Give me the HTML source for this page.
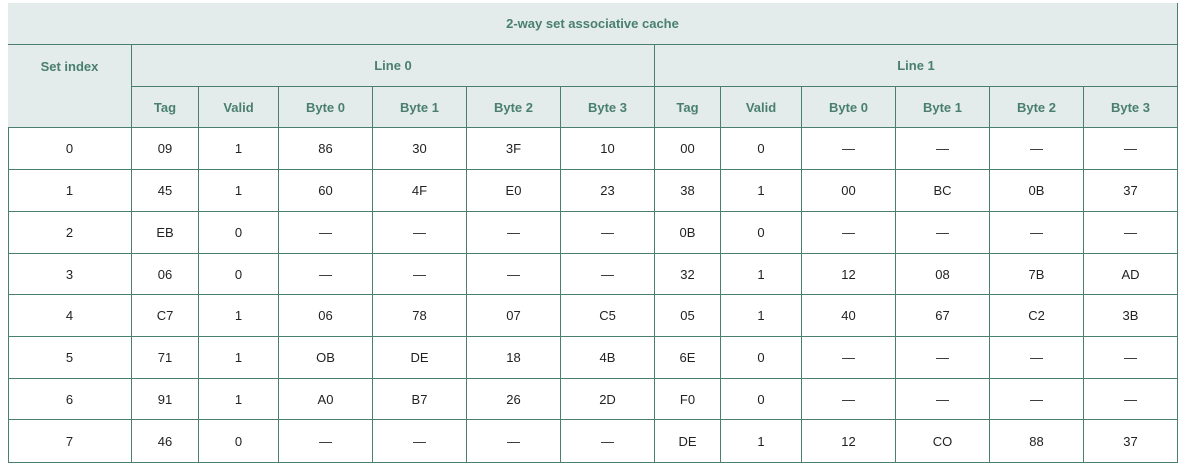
<!DOCTYPE html>
<html><head><meta charset="utf-8"><style>
body{margin:0;width:1192px;height:472px;background:#fff;overflow:hidden;font-family:"Liberation Sans",Arial,sans-serif;position:relative}
.c{position:absolute;box-sizing:border-box;border-right:1px solid #4a7f70;border-bottom:1px solid #4a7f70;display:flex;align-items:center;justify-content:center;font-size:13px;color:#222}
.h{background:#e3ecea;color:#4a7f70;font-weight:bold}
#frame{position:absolute;left:8px;top:3px;width:1170px;height:460px;box-sizing:border-box;border-left:1px solid #4a7f70;border-top:1px solid #4a7f70}
</style></head><body>
<div id="frame"></div>
<script>
const xs=[8,132,199,279,373,467,561,655,721,802,896,990,1084,1178];
const ys=[3,45,87,128,170,212,254,295,337,379,420,463];
const colHeads=["Tag","Valid","Byte 0","Byte 1","Byte 2","Byte 3"];
const rows=[
["0","09","1","86","30","3F","10","00","0","—","—","—","—"],
["1","45","1","60","4F","E0","23","38","1","00","BC","0B","37"],
["2","EB","0","—","—","—","—","0B","0","—","—","—","—"],
["3","06","0","—","—","—","—","32","1","12","08","7B","AD"],
["4","C7","1","06","78","07","C5","05","1","40","67","C2","3B"],
["5","71","1","OB","DE","18","4B","6E","0","—","—","—","—"],
["6","91","1","A0","B7","26","2D","F0","0","—","—","—","—"],
["7","46","0","—","—","—","—","DE","1","12","CO","88","37"]];
function cell(x0,x1,y0,y1,t,h,name){
 const d=document.createElement('div');
 d.className='c'+(h?' h':'');
 d.style.left=x0+'px';d.style.top=y0+'px';d.style.width=(x1-x0)+'px';d.style.height=(y1-y0)+'px';
 d.textContent=t;
 
 
 document.body.appendChild(d);
}
cell(xs[0],xs[13],ys[0],ys[1],"2-way set associative cache",1,'table-title');
cell(xs[0],xs[1],ys[1],ys[3],"",1,'set-index-header');
const si=document.querySelector('.c:last-child');si.style.alignItems='flex-start';si.style.paddingTop='14px';si.textContent='Set index';
cell(xs[1],xs[7],ys[1],ys[2],"Line 0",1,'line-0-header');
cell(xs[7],xs[13],ys[1],ys[2],"Line 1",1,'line-1-header');
for(let i=0;i<12;i++)cell(xs[i+1],xs[i+2],ys[2],ys[3],colHeads[i%6],1,'column-header');
rows.forEach((r,ri)=>r.forEach((v,ci)=>cell(xs[ci],xs[ci+1],ys[ri+3],ys[ri+4],v,0,'table-cell')));
</script>
</body></html>
